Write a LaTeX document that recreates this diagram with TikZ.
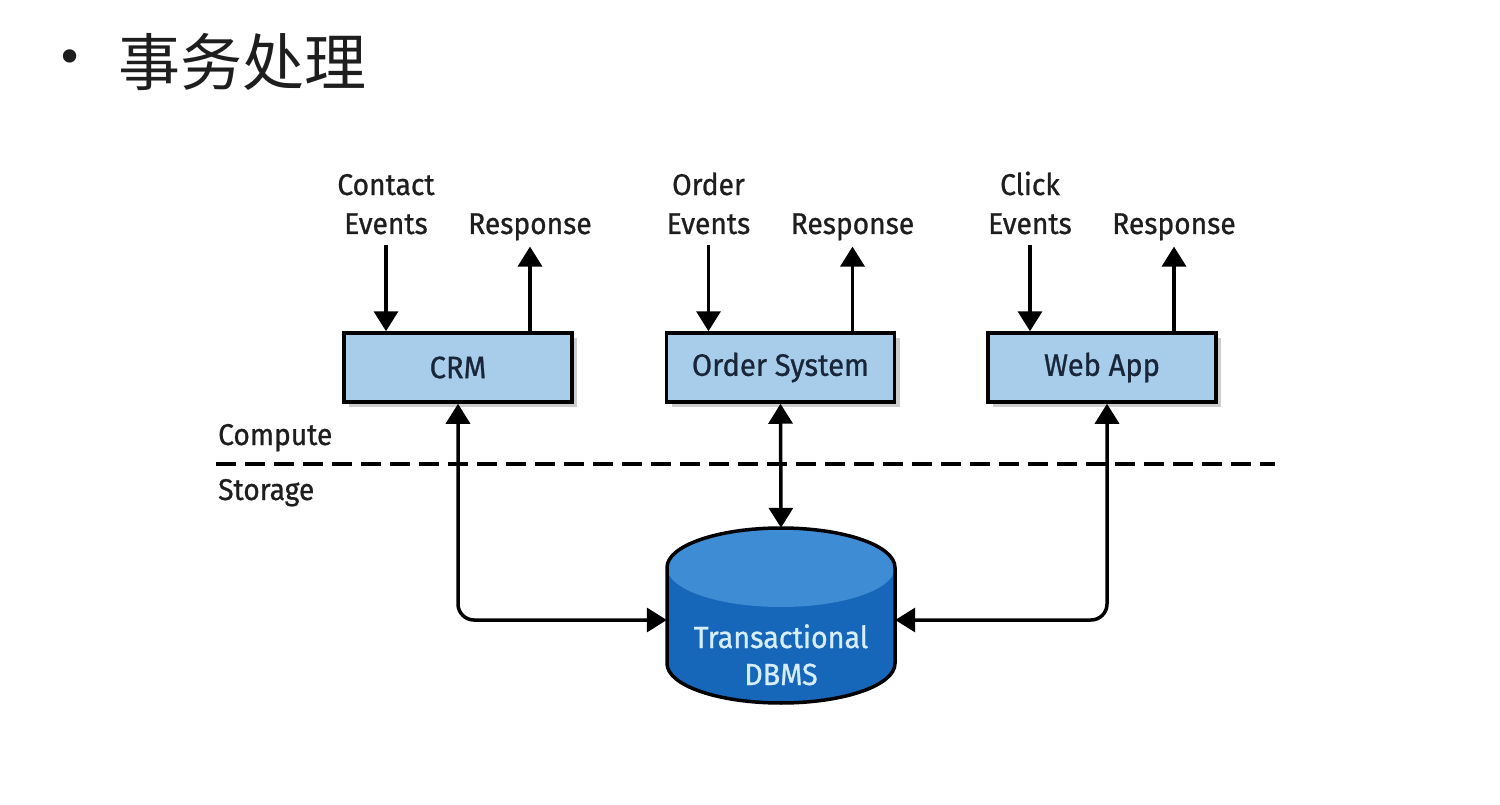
\documentclass[tikz,border=0pt]{standalone}
\usepackage{fontspec}
\setmainfont{Fira Sans}[FakeStretch=0.94,FakeBold=0.8]
\newfontfamily\cjk{Noto Sans CJK SC}
\newfontfamily\symf{DejaVu Sans}
\usetikzlibrary{arrows.meta,shadows}
\definecolor{boxblue}{RGB}{168,205,235}
\definecolor{dbdark}{RGB}{22,102,186}
\definecolor{dbtop}{RGB}{62,140,211}
\definecolor{dbtext}{RGB}{214,238,250}
\definecolor{boxtext}{RGB}{25,38,58}
\definecolor{lbltext}{RGB}{30,30,30}
\begin{document}
\begin{tikzpicture}[x=1pt,y=-1pt,
  sysbox/.style={draw=black, line width=3.5pt, fill=boxblue, minimum width=228pt, minimum height=69pt, inner sep=0pt,
    font=\fontsize{31}{38}\selectfont, text=boxtext,
    drop shadow={shadow xshift=5pt,shadow yshift=-5pt,opacity=0.2,fill=black}},
  lbl/.style={font=\fontsize{30}{39}\selectfont, align=center, inner sep=0pt, text=lbltext},
  arr/.style={line width=3.5pt, -{Triangle[length=20pt,width=24pt]}},
  darr/.style={line width=3.5pt, {Triangle[length=20pt,width=24pt]}-{Triangle[length=20pt,width=24pt]}, rounded corners=16pt},
  sep/.style={line width=3.5pt, dash pattern=on 20pt off 9pt},
]
\useasboundingbox (0,0) rectangle (1500,805);
\fill[white] (0,0) rectangle (1500,805);

% title
\node[font=\symf\fontsize{46}{46}\selectfont, inner sep=0pt, text=lbltext] (bullet) at (70,62) {•};
\node[font=\cjk\fontsize{62}{70}\selectfont, anchor=west, inner sep=0pt, text=lbltext] (title) at (118,62) {事务处理};

% systems
\node[sysbox] (crm) at (458,367.5) {CRM};
\node[sysbox] (ord) at (780.5,367.5) {Order System};
\node[sysbox] (web) at (1102,367.5) {Web App};

% input / output labels
\node[lbl, anchor=base] (in1) at (386,234) {Contact\\Events};
\node[lbl, anchor=base] (out1) at (530,234) {Response};
\node[lbl, anchor=base] (in2) at (708.5,234) {Order\\Events};
\node[lbl, anchor=base] (out2) at (852.5,234) {Response};
\node[lbl, anchor=base] (in3) at (1030,234) {Click\\Events};
\node[lbl, anchor=base] (out3) at (1174,234) {Response};

\draw[arr] ([yshift=-10pt]in1.south) -- (in1.south |- crm.north);
\draw[arr] (out1.south |- crm.north) -- ([yshift=-6pt]out1.south);
\draw[arr] ([yshift=-10pt]in2.south) -- (in2.south |- ord.north);
\draw[arr] (out2.south |- ord.north) -- ([yshift=-6pt]out2.south);
\draw[arr] ([yshift=-10pt]in3.south) -- (in3.south |- web.north);
\draw[arr] (out3.south |- web.north) -- ([yshift=-6pt]out3.south);

% compute / storage
\node[lbl, anchor=base west] (comp) at (218,445) {Compute};
\node[lbl, anchor=base west] (stor) at (218,500) {Storage};
\coordinate (sepL) at (216,464);
\coordinate (sepR) at (1275,464);
\draw[sep] (sepL) -- (sepR);

% database cylinder
\node[minimum width=228pt, minimum height=175pt, inner sep=0pt, draw=none] (db) at (781,615.5) {};
\fill[dbdark] (667,567.5) -- (667,663.5) arc[start angle=180,end angle=360,x radius=114pt,y radius=39.5pt] -- (895,567.5) -- cycle;
\fill[dbtop] (781,567.5) ellipse [x radius=114pt, y radius=39.5pt];
\draw[line width=3.5pt] (667,567.5) -- (667,663.5) arc[start angle=180,end angle=360,x radius=114pt,y radius=39.5pt] -- (895,567.5) arc[start angle=0,end angle=180,x radius=114pt,y radius=39.5pt] -- cycle;
\node[font=\fontsize{30.5}{37}\selectfont, text=dbtext, align=center, inner sep=0pt, anchor=base] (dbl) at (781,685) {Transactional\\DBMS};

% connectors
\draw[darr] (ord.south) -- (db.north);
\draw[darr] (crm.south) |- ([yshift=-4.5pt]db.west);
\draw[darr] ([xshift=5pt]web.south) |- ([yshift=-4.5pt]db.east);
\end{tikzpicture}
\end{document}
